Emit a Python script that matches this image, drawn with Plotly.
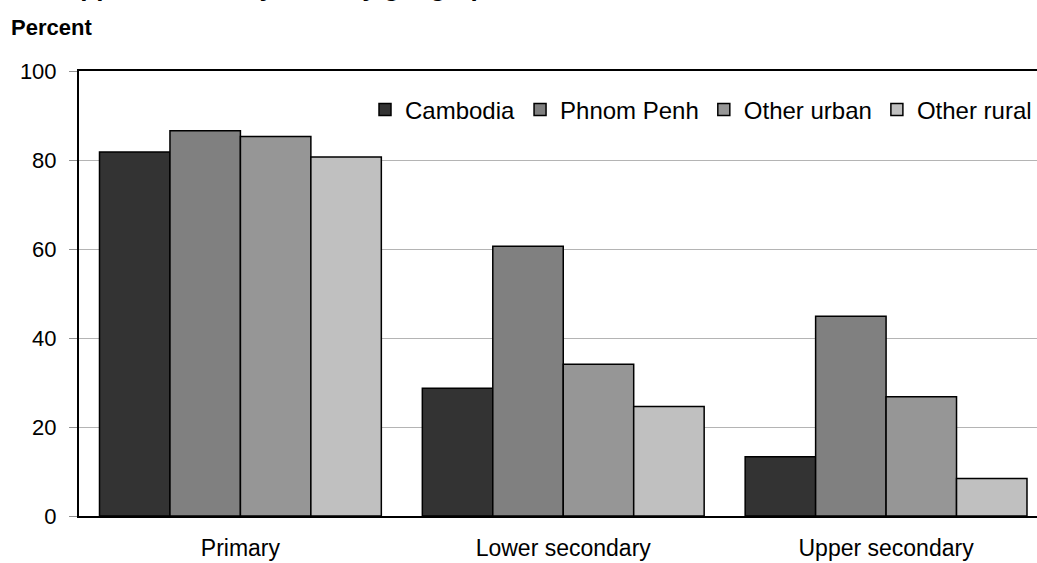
import plotly.graph_objects as go

# Enrolment by level and geographical domain, 1997 (percent)
levels = ["Primary", "Lower secondary", "Upper secondary"]
domains = ["Cambodia", "Phnom Penh", "Other urban", "Other rural"]
cambodia = [81.8, 28.7, 13.3]
phnom_penh = [86.6, 60.6, 44.9]
other_urban = [85.3, 34.1, 26.8]
other_rural = [80.7, 24.6, 8.4]
y_ticks = [0, 20, 40, 60, 80, 100]

title_text = ("Figure 3.3. Net enrolment rates in primary, lower and upper secondary "
              "level by geographical domain, 1997. Percent")

series = [cambodia, phnom_penh, other_urban, other_rural]
colors = ["#333333", "#808080", "#969696", "#c0c0c0"]
FONT = "Arial, Liberation Sans, sans-serif"

fig = go.Figure()
for name, vals, col in zip(domains, series, colors):
    fig.add_trace(go.Bar(
        x=levels, y=vals, name=name,
        marker=dict(color=col, line=dict(color="black", width=1.5)),
    ))

W, H = 1037, 563
ML, MR, MT, MB = 79, 0, 71, 47
PW, PH = W - ML - MR, H - MT - MB


def px_x(x):
    return (x - ML) / PW


def px_y(y):
    return (H - MB - y) / PH


fig.update_layout(
    width=W, height=H,
    margin=dict(l=ML, r=MR, t=MT, b=MB, pad=0, autoexpand=False),
    paper_bgcolor="white", plot_bgcolor="white",
    barmode="group", bargap=0.127, bargroupgap=0,
    font=dict(family=FONT, color="black", size=22),
    showlegend=True,
    legend=dict(
        orientation="h", x=1.0, xanchor="right", y=px_y(110), yanchor="middle",
        font=dict(size=24, family=FONT), bgcolor="rgba(0,0,0,0)",
        itemwidth=30, tracegroupgap=0,
    ),
    xaxis=dict(
        range=[-0.5, 2.4675], showgrid=False, showline=True, mirror=True,
        linecolor="black", linewidth=2, ticks="", ticklabelstandoff=10,
        tickfont=dict(size=23, family=FONT), automargin=False,
    ),
    yaxis=dict(
        range=[0, 100], tickvals=y_ticks, showgrid=True, gridcolor="#b4b4b4",
        gridwidth=1, showline=True, linecolor="black", linewidth=2,
        ticks="outside", ticklen=8, tickcolor="#909090", tickwidth=1,
        tickfont=dict(size=22, family=FONT), ticklabelstandoff=8,
        zeroline=False, automargin=False,
    ),
    annotations=[
        dict(text="<b>Percent</b>", x=px_x(9), xref="paper", xanchor="left",
             y=px_y(28), yref="paper", yanchor="middle", showarrow=False,
             font=dict(size=22, family=FONT)),
        dict(text="<b>" + title_text + "</b>", x=px_x(830), xref="paper",
             xanchor="right", y=px_y(-13), yref="paper", yanchor="middle",
             showarrow=False, font=dict(size=26, family=FONT)),
    ],
)

fig.write_html("out.html")
